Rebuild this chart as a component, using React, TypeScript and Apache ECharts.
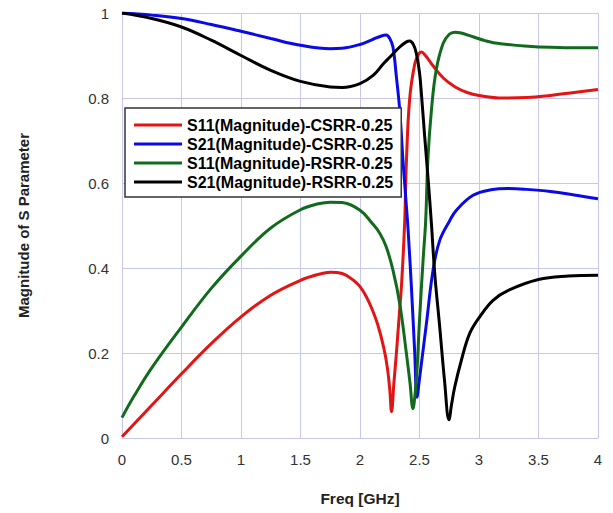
import React, { useEffect, useRef } from "react";
import * as echarts from "echarts";

const xTicks = [0, 0.5, 1, 1.5, 2, 2.5, 3, 3.5, 4];
const yTicks = [0, 0.2, 0.4, 0.6, 0.8, 1];

const seriesNames = [
  "S11(Magnitude)-CSRR-0.25",
  "S21(Magnitude)-CSRR-0.25",
  "S11(Magnitude)-RSRR-0.25",
  "S21(Magnitude)-RSRR-0.25",
];
const seriesColors = ["#e31414", "#0a0ae6", "#126b1c", "#000000"];

const s11Csrr = [
  [0, 0.003], [0.25, 0.077], [0.5, 0.151], [0.75, 0.222], [1.0, 0.285], [1.25, 0.336],
  [1.5, 0.371], [1.65, 0.385], [1.75, 0.39], [1.85, 0.387], [1.95, 0.37], [2.0, 0.356],
  [2.05, 0.334], [2.1, 0.304], [2.15, 0.266], [2.2, 0.212], [2.23, 0.165], [2.25, 0.115],
  [2.265, 0.062], [2.285, 0.13], [2.306, 0.2], [2.33, 0.29], [2.35, 0.365], [2.375, 0.505],
  [2.39, 0.65], [2.418, 0.8], [2.46, 0.88], [2.49, 0.902], [2.515, 0.908], [2.55, 0.9],
  [2.61, 0.877], [2.7, 0.847], [2.8, 0.826], [2.9, 0.813], [3.0, 0.806], [3.2, 0.8],
  [3.4, 0.801], [3.6, 0.806], [3.8, 0.813], [4.0, 0.82],
];

const s21Csrr = [
  [0, 1.0], [0.25, 0.995], [0.5, 0.987], [0.75, 0.973], [1.0, 0.957], [1.25, 0.94],
  [1.5, 0.924], [1.75, 0.916], [1.85, 0.917], [2.0, 0.926], [2.1, 0.937], [2.18, 0.946],
  [2.22, 0.948], [2.25, 0.94], [2.277, 0.92], [2.306, 0.849], [2.334, 0.771], [2.361, 0.653],
  [2.384, 0.567], [2.404, 0.49], [2.432, 0.355], [2.46, 0.2], [2.479, 0.096], [2.5, 0.14],
  [2.516, 0.175], [2.558, 0.269], [2.614, 0.395], [2.67, 0.465], [2.755, 0.512], [2.81, 0.536],
  [2.95, 0.571], [3.1, 0.584], [3.25, 0.587], [3.4, 0.585], [3.6, 0.58], [3.8, 0.572], [4.0, 0.563],
];

const s11Rsrr = [
  [0, 0.048], [0.1, 0.098], [0.25, 0.165], [0.5, 0.261], [0.75, 0.352], [1.0, 0.428],
  [1.25, 0.494], [1.5, 0.537], [1.65, 0.551], [1.75, 0.555], [1.85, 0.554], [2.0, 0.536],
  [2.1, 0.506], [2.166, 0.482], [2.22, 0.45], [2.277, 0.395], [2.334, 0.316], [2.39, 0.199],
  [2.42, 0.13], [2.445, 0.069], [2.465, 0.11], [2.479, 0.159], [2.5, 0.277], [2.53, 0.418],
  [2.552, 0.512], [2.57, 0.653], [2.6, 0.771], [2.64, 0.865], [2.698, 0.928], [2.75, 0.95],
  [2.796, 0.955], [2.85, 0.953], [2.95, 0.944], [3.05, 0.935], [3.17, 0.928], [3.5, 0.92], [4.0, 0.918],
];

const s21Rsrr = [
  [0, 1.0], [0.25, 0.987], [0.5, 0.967], [0.75, 0.936], [1.0, 0.9], [1.25, 0.865],
  [1.5, 0.839], [1.75, 0.826], [1.85, 0.825], [2.0, 0.834], [2.11, 0.853], [2.2, 0.882],
  [2.25, 0.896], [2.334, 0.92], [2.39, 0.932], [2.418, 0.934], [2.45, 0.925], [2.474, 0.904],
  [2.5, 0.86], [2.516, 0.81], [2.544, 0.708], [2.571, 0.614], [2.6, 0.505], [2.628, 0.387],
  [2.67, 0.261], [2.71, 0.136], [2.748, 0.043], [2.77, 0.08], [2.796, 0.12], [2.852, 0.183],
  [2.922, 0.246], [3.006, 0.285], [3.118, 0.324], [3.25, 0.348], [3.5, 0.373], [3.75, 0.381],
  [4.0, 0.383],
];

const seriesData = [s11Csrr, s21Csrr, s11Rsrr, s21Rsrr];

export default function App() {
  const ref = useRef<HTMLDivElement>(null);
  useEffect(() => {
    if (!ref.current) return;
    const chart = echarts.init(ref.current, undefined, { renderer: "svg" });
    const font = "Liberation Sans, Arial, sans-serif";
    chart.setOption({
      animation: false,
      backgroundColor: "#ffffff",
      grid: { left: 122, right: 15, top: 13, bottom: 75, containLabel: false },
      legend: {
        orient: "vertical",
        left: 125,
        top: 108,
        data: seriesNames,
        icon: "rect",
        itemWidth: 48,
        itemHeight: 3,
        itemGap: 3,
        padding: [9, 8, 7, 9],
        borderColor: "#333333",
        borderWidth: 1.5,
        backgroundColor: "#ffffff",
        textStyle: {
          fontFamily: font,
          fontSize: 16,
          fontWeight: "bold",
          color: "inherit",
          lineHeight: 16,
        },
      },
      xAxis: {
        type: "value",
        min: 0,
        max: 4,
        interval: 0.5,
        name: "Freq [GHz]",
        nameLocation: "middle",
        nameGap: 52,
        nameTextStyle: { fontFamily: font, fontSize: 15.5, fontWeight: "bold", color: "#222" },
        axisLine: { show: true, lineStyle: { color: "#c8c8ee", width: 1 } },
        axisTick: { show: false },
        axisLabel: {
          fontFamily: font,
          fontSize: 15,
          color: "#333",
          margin: 14,
          formatter: (v: number) => (xTicks.includes(v) ? String(v) : ""),
        },
        splitLine: { show: true, lineStyle: { color: "#c8c8ee", width: 1 } },
      },
      yAxis: {
        type: "value",
        min: 0,
        max: 1,
        interval: 0.2,
        name: "Magnitude of S Parameter",
        nameLocation: "middle",
        nameGap: 91,
        nameTextStyle: { fontFamily: font, fontSize: 15, fontWeight: "bold", color: "#222" },
        axisLine: { show: true, lineStyle: { color: "#c8c8ee", width: 1 } },
        axisTick: { show: false },
        axisLabel: {
          fontFamily: font,
          fontSize: 15,
          color: "#333",
          margin: 13,
          formatter: (v: number) => {
            const t = yTicks.find((y) => Math.abs(y - v) < 1e-6);
            return t === undefined ? "" : String(t);
          },
        },
        splitLine: { show: true, lineStyle: { color: "#c8c8ee", width: 1 } },
      },
      series: seriesNames.map((name, i) => ({
        name,
        type: "line",
        data: seriesData[i],
        showSymbol: false,
        symbol: "none",
        smooth: 0.4,
        clip: true,
        lineStyle: { color: seriesColors[i], width: 3 },
        itemStyle: { color: seriesColors[i] },
        z: 2 + i,
      })),
    });
    return () => chart.dispose();
  }, []);
  return (
    <div
      ref={ref}
      style={{ position: "fixed", left: 0, top: 0, width: 613, height: 513, background: "#fff" }}
    />
  );
}
